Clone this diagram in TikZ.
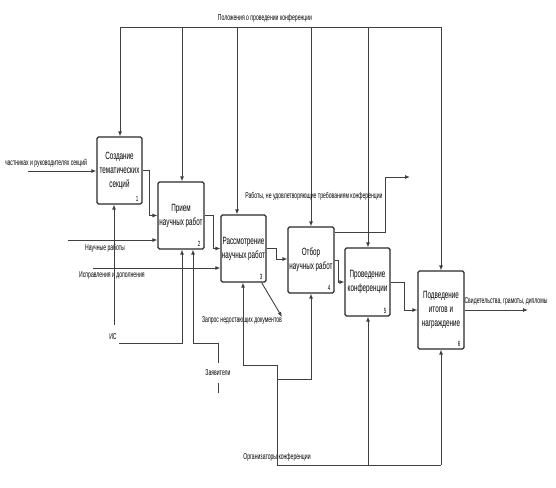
\documentclass[tikz,border=0pt]{standalone}
\usepackage{fontspec}
\newfontfamily\nf{Liberation Sans}[FakeStretch=0.6]
\usetikzlibrary{arrows.meta,calc}
\definecolor{ln}{HTML}{404040}
\definecolor{bx}{HTML}{2A2A2A}
\begin{document}
\begin{tikzpicture}[x=1pt,y=-1pt,
  proc/.style={draw=bx,line width=1.2pt,rounded corners=1.5pt,inner sep=0pt,
    align=center,font=\nf\fontsize{10.5}{14}\selectfont,text=black},
  line/.style={draw=ln,line width=0.9pt},
  arr/.style={line,-{Latex[length=5pt,width=4pt]}},
  lab/.style={font=\nf\fontsize{8.5}{10}\selectfont,text=black,inner sep=0.5pt},
  num/.style={font=\nf\fontsize{7.5}{8}\selectfont,anchor=south east,inner sep=0pt}]
\useasboundingbox (0,0) rectangle (556,487);
% boxes
\node[proc,minimum width=45pt,minimum height=67pt] (b1) at (119.5,170.5) {Создание\\тематических\\секций};
\node[proc,minimum width=46pt,minimum height=67pt] (b2) at (181,215.5) {Прием\\научных работ};
\node[proc,minimum width=45pt,minimum height=67pt] (b3) at (243.5,248.5) {Рассмотрение\\научных работ};
\node[proc,minimum width=46pt,minimum height=66pt] (b4) at (311,260) {Отбор\\научных работ};
\node[proc,minimum width=45pt,minimum height=68pt] (b5) at (367.5,282) {Проведение\\конференции};
\node[proc,minimum width=46pt,minimum height=78pt] (b6) at (441,310) {Подведение\\итогов и\\награждение};
\foreach \b/\n in {b1/1,b2/2,b3/3,b4/4,b5/5,b6/6}
  \node[num] (n\n) at ($(\b.south east)+(-4,-3)$) {\n};
% flows between boxes
\draw[arr] (b1.east) -- ++(7,0) |- (b2.west);
\draw[arr] (b2.east) -- ++(9,0) |- (b3.west);
\draw[arr] (b3.east) -- ++(10,0) |- ($(b4.west)+(0,-1)$);
\draw[arr] (b4.east) -- ++(4,0) |- (b5.west);
\draw[arr] (b5.east) -- ++(14,0) |- (b6.west);
% controls (top)
\coordinate (t1) at (120,27);
\coordinate (t2) at (182,27);
\coordinate (t3) at (237,27);
\coordinate (t4) at (311,27);
\coordinate (t5) at (368,27);
\coordinate (t6) at (441,27);
\draw[line] (t1) -- (t6);
\draw[arr] (t1) -- (t1 |- b1.north);
\draw[arr] (t2) -- (t2 |- b2.north);
\draw[arr] (t3) -- (t3 |- b3.north);
\draw[arr] (t4) -- (t4 |- b4.north);
\draw[arr] (t5) -- (t5 |- b5.north);
\draw[arr] (t6) -- (t6 |- b6.north);
\node[lab] (lctl) at (265,18) {Положения о проведении конференции};
% inputs
\coordinate (i1) at (28,171);
\coordinate (i2) at (68,240);
\coordinate (i3) at (93,268);
\draw[arr] (i1) -- (i1 -| b1.west);
\draw[arr] (i2) -- (i2 -| b2.west);
\draw[arr] (i3) -- (i3 -| b3.west);
\node[lab] (li1) at (46,163) {частниках и руководителях секций};
\node[lab] (li2) at (105,248) {Научные работы};
\node[lab] (li3) at (112,275) {Исправления и дополнения};
% outputs
\coordinate (o6) at (528,310);
\draw[arr] (b6.east) -- (o6);
\node[lab] (lo6) at (506,301) {Свидетельства, грамоты, дипломы};
\coordinate (o4a) at (385,232);
\coordinate (o4) at (410,177);
\draw[arr] (b4.east |- o4a) -- (o4a) |- (o4);
\node[lab] (lo4) at (314,196) {Работы, не удовлетворяющие требованиям конференции};
\coordinate (o3) at (282,317);
\draw[arr] ($(b3.south east)+(-5,0)$) -- (o3);
\node[lab] (lo3) at (242,320) {Запрос недостающих документов};
% mechanisms
\coordinate (m1) at (114,325);
\draw[arr] (m1) -- (m1 |- b1.south);
\coordinate (m2) at (119,343);
\coordinate (m2b) at (182,343);
\draw[arr] (m2) -- (m2b) -- (m2b |- b2.south);
\node[lab] (lis) at (113,337) {ИС};
\coordinate (z0) at (218,393);
\coordinate (z1) at (218,343);
\coordinate (z2) at (193,343);
\draw[arr] (z0) -- (z1) -- (z2) -- (z2 |- b2.south);
\node[lab,fill=white,inner ysep=7pt] (lz) at (218,373) {Заявители};
\coordinate (g0) at (277,465);
\coordinate (g1) at (277,365);
\coordinate (g2) at (243,365);
\coordinate (g3) at (277,379);
\coordinate (g4) at (311,379);
\coordinate (g5) at (368,465);
\coordinate (g6) at (441,465);
\draw[line] (g0) -- (g6);
\draw[arr] (g0) -- (g1) -- (g2) -- (g2 |- b3.south);
\draw[arr] (g3) -- (g4) -- (g4 |- b4.south);
\draw[arr] (g5) -- (g5 |- b5.south);
\draw[arr] (g6) -- (g6 |- b6.south);
\node[lab] (lg) at (277,457) {Организаторы конференции};
\end{tikzpicture}
\end{document}
